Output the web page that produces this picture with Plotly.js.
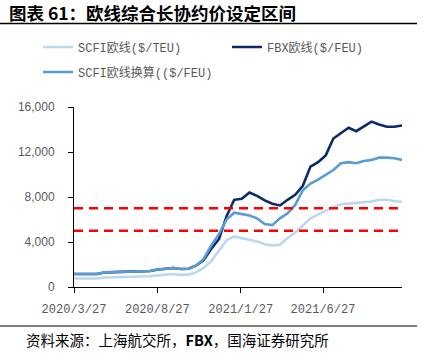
<!DOCTYPE html>
<html>
<head>
<meta charset="utf-8">
<script src="https://cdn.plot.ly/plotly-3.0.1.min.js"></script>
<style>html,body{margin:0;padding:0;background:#fff;}#chart{width:428px;height:358px;}</style>
</head>
<body>
<div id="chart"></div>
<script>
const dates = [
  '2020-03-27','2020-04-10','2020-04-24','2020-05-08','2020-05-22','2020-06-05','2020-06-19','2020-07-03',
  '2020-07-17','2020-07-31','2020-08-14','2020-08-28','2020-09-11','2020-09-25','2020-10-09','2020-10-23',
  '2020-11-06','2020-11-20','2020-12-04','2020-12-18','2021-01-01','2021-01-15','2021-01-29','2021-02-12',
  '2021-02-26','2021-03-12','2021-03-26','2021-04-09','2021-04-23','2021-05-07','2021-05-21','2021-06-04',
  '2021-06-18','2021-07-02','2021-07-16','2021-07-30','2021-08-13','2021-08-27','2021-09-10','2021-09-24',
  '2021-10-08','2021-10-22','2021-11-05','2021-11-19'
];
const scfiTEU = [
  750, 740, 730, 760, 850, 870, 890, 900, 910, 920, 950, 1030, 1060, 1150, 1080, 1100,
  1300, 1700, 2300, 3200, 4150, 4500, 4350, 4200, 4050, 3800, 3700, 3750, 4350, 4850,
  5500, 6100, 6450, 6800, 7100, 7350, 7400, 7450, 7550, 7600, 7750, 7750, 7650, 7550
];
const fbx = [
  1150, 1130, 1120, 1150, 1290, 1330, 1350, 1370, 1390, 1400, 1420, 1560, 1600, 1690, 1600, 1620,
  1900, 2400, 3400, 4250, 6300, 7750, 7850, 8400, 8100, 7700, 7400, 7250, 7750, 8200,
  9000, 10700, 11100, 11700, 13200, 13650, 14150, 13850, 14300, 14700, 14450, 14250, 14250, 14350
];
const scfiFEU = [
  1150, 1130, 1120, 1150, 1300, 1330, 1360, 1380, 1390, 1400, 1420, 1570, 1600, 1700, 1600, 1620,
  1900, 2500, 3700, 4700, 6000, 6600, 6450, 6350, 6100, 5600, 5500, 6100, 6550, 7300,
  8600, 9200, 9550, 10000, 10400, 11000, 11100, 11000, 11200, 11300, 11500, 11500, 11450, 11300
];
const rangeLevels = [5000, 7000];
const seriesNames = ['SCFI欧线($/TEU)', 'FBX欧线($/FEU)', 'SCFI欧线换算(($/FEU)'];
const yTicks = [0, 4000, 8000, 12000, 16000];
const titleText = '<b>图表 61：欧线综合长协约价设定区间</b>';
const sourceText = '资料来源：上海航交所，<b>FBX</b>，国海证券研究所';

const L = 74, R = 26, T = 107, B = 71, W = 428, H = 358;
const pw = W - L - R, ph = H - T - B;
const px = x => (x - L) / pw;
const py = y => (H - B - y) / ph;

const legFont = {family: 'Liberation Mono, Noto Sans CJK SC, monospace', size: 12, color: '#595959'};

const traces = [
  {x: dates, y: scfiTEU, name: seriesNames[0], type: 'scatter', mode: 'lines',
   line: {color: '#BDD7EE', width: 2.6}, legend: 'legend'},
  {x: dates, y: fbx, name: seriesNames[1], type: 'scatter', mode: 'lines',
   line: {color: '#0B2A66', width: 2.6}, legend: 'legend2'},
  {x: dates, y: scfiFEU, name: seriesNames[2], type: 'scatter', mode: 'lines',
   line: {color: '#5B9BD5', width: 2.6}, legend: 'legend3'}
];

const shapes = rangeLevels.map(v => ({
  type: 'line', xref: 'paper', x0: 0, x1: 1, yref: 'y', y0: v, y1: v,
  line: {color: '#FF0000', width: 2.6, dash: '9px,6px'}
}));
shapes.push({type: 'line', xref: 'paper', yref: 'paper', x0: px(0), x1: px(417), y0: py(23.5), y1: py(23.5),
  line: {color: '#000', width: 1.5}});
shapes.push({type: 'line', xref: 'paper', yref: 'paper', x0: px(0), x1: px(417), y0: py(326), y1: py(326),
  line: {color: '#000', width: 1}});

const layout = {
  width: W, height: H,
  margin: {l: L, r: R, t: T, b: B, pad: 0},
  paper_bgcolor: '#fff', plot_bgcolor: '#fff',
  showlegend: true,
  font: {family: 'Liberation Sans, Noto Sans CJK SC, sans-serif', color: '#595959', size: 12},
  xaxis: {
    type: 'date', range: [dates[0], dates[dates.length - 1]],
    tick0: dates[0], dtick: 'M5', tickformat: '%Y/%-m/%-d',
    showgrid: false, zeroline: false, showline: true, linecolor: '#000', linewidth: 1,
    ticks: 'outside', ticklen: 5, tickcolor: '#000', tickwidth: 1,
    tickfont: {family: 'Liberation Mono, monospace', size: 12, color: '#595959'},
    ticklabelstandoff: 6
  },
  yaxis: {
    range: [0, 16000], tickvals: yTicks, tickformat: ',d',
    showgrid: false, zeroline: false, showline: true, linecolor: '#000', linewidth: 1,
    ticks: 'outside', ticklen: 5, tickcolor: '#000', tickwidth: 1,
    tickfont: {family: 'Liberation Sans, sans-serif', size: 12, color: '#595959'},
    ticklabelstandoff: 11
  },
  legend: {x: px(38), y: py(47), xanchor: 'left', yanchor: 'middle', orientation: 'h',
    font: legFont, bgcolor: 'rgba(0,0,0,0)', borderwidth: 0},
  legend2: {x: px(227), y: py(47), xanchor: 'left', yanchor: 'middle', orientation: 'h',
    font: legFont, bgcolor: 'rgba(0,0,0,0)', borderwidth: 0},
  legend3: {x: px(38), y: py(72), xanchor: 'left', yanchor: 'middle', orientation: 'h',
    font: legFont, bgcolor: 'rgba(0,0,0,0)', borderwidth: 0},
  shapes: shapes,
  annotations: [
    {text: titleText, xref: 'paper', yref: 'paper', x: px(7), y: py(12), xanchor: 'left', yanchor: 'middle',
     showarrow: false, font: {family: 'Noto Sans CJK SC, sans-serif', size: 17.5, color: '#000'}},
    {text: sourceText, xref: 'paper', yref: 'paper', x: px(24), y: py(339), xanchor: 'left', yanchor: 'middle',
     showarrow: false, font: {family: 'Noto Sans CJK SC, sans-serif', size: 14.5, color: '#000'}}
  ]
};

Plotly.newPlot('chart', traces, layout, {staticPlot: true, displayModeBar: false});
</script>
</body>
</html>
